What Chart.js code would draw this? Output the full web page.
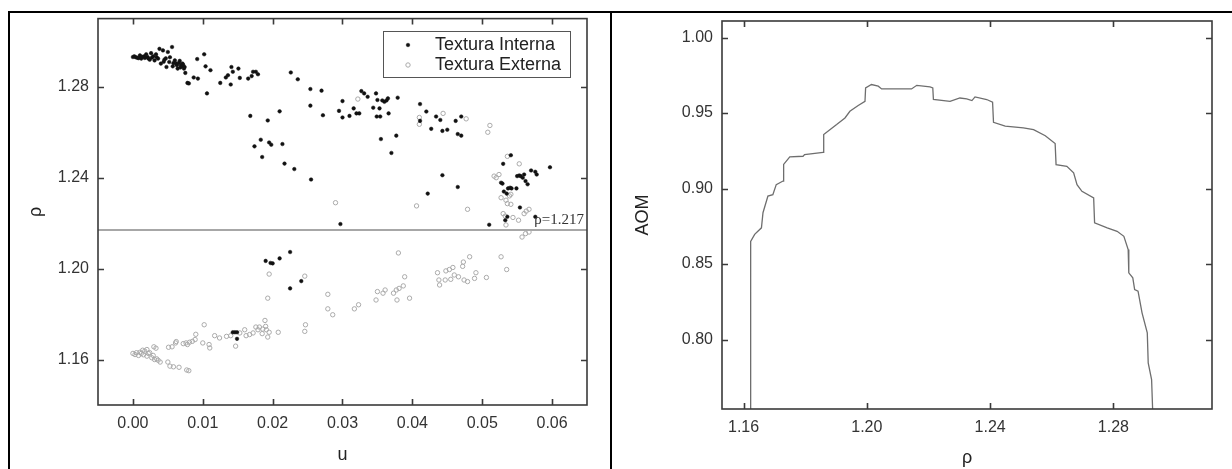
<!DOCTYPE html>
<html>
<head>
<meta charset="utf-8">
<script src="https://cdn.jsdelivr.net/npm/chart.js@4.4.0/dist/chart.umd.min.js"></script>
<style>
    body { margin: 0; background: #fff; }
    #wrap { position: relative; width: 1232px; height: 469px; overflow: hidden; background: #fff; }
    canvas { position: absolute; top: 0; }
    .rule { position: absolute; background: #000; }
</style>
</head>
<body>
<div id="wrap">
    <canvas id="left" width="600" height="469" style="left:10px"></canvas>
    <canvas id="right" width="619" height="469" style="left:613px"></canvas>
    <div class="rule" style="left:8px;top:11px;width:1224px;height:2px"></div>
    <div class="rule" style="left:8px;top:11px;width:2px;height:458px"></div>
    <div class="rule" style="left:610px;top:11px;width:2px;height:458px"></div>
</div>
<script>
// left panel: u vs rho, two textures
const interna = [
    [0.0000,1.2931],[0.0002,1.2934],[0.0004,1.2930],[0.0006,1.2928],[0.0008,1.2926],[0.0010,1.2938],
    [0.0012,1.2924],[0.0013,1.2932],[0.0016,1.2934],[0.0017,1.2927],[0.0019,1.2943],[0.0021,1.2931],
    [0.0022,1.2925],[0.0024,1.2919],[0.0026,1.2948],[0.0027,1.2928],[0.0029,1.2934],[0.0031,1.2916],
    [0.0033,1.2943],[0.0034,1.2930],[0.0036,1.2924],[0.0038,1.2967],[0.0040,1.2902],[0.0043,1.2960],
    [0.0044,1.2910],[0.0045,1.2919],[0.0047,1.2925],[0.0048,1.2887],[0.0050,1.2953],[0.0052,1.2909],
    [0.0053,1.2930],[0.0056,1.2975],[0.0057,1.2890],[0.0058,1.2904],[0.0060,1.2916],[0.0062,1.2902],
    [0.0063,1.2895],[0.0064,1.2880],[0.0066,1.2905],[0.0067,1.2914],[0.0068,1.2885],[0.0069,1.2895],
    [0.0070,1.2892],[0.0071,1.2902],[0.0072,1.2896],[0.0073,1.2880],[0.0074,1.2887],[0.0075,1.2861],
    [0.0078,1.2817],[0.0080,1.2815],[0.0087,1.2841],[0.0092,1.2922],[0.0093,1.2836],[0.0102,1.2943],
    [0.0104,1.2890],[0.0106,1.2771],[0.0111,1.2873],[0.0125,1.2817],[0.0133,1.2841],[0.0136,1.2851],
    [0.0140,1.2810],[0.0141,1.2887],[0.0143,1.2866],[0.0151,1.2880],[0.0153,1.2839],[0.0165,1.2836],
    [0.0170,1.2847],[0.0172,1.2866],[0.0176,1.2866],[0.0179,1.2855],[0.0168,1.2672],[0.0174,1.2538],
    [0.0183,1.2567],[0.0185,1.2491],[0.0193,1.2652],[0.0195,1.2555],[0.0198,1.2545],[0.0210,1.2692],
    [0.0214,1.2548],[0.0217,1.2462],[0.0226,1.2863],[0.0236,1.2833],[0.0254,1.2790],[0.0254,1.2717],
    [0.0255,1.2392],[0.0270,1.2783],[0.0272,1.2675],[0.0231,1.2438],
    [0.0300,1.2737],[0.0295,1.2694],[0.0300,1.2665],[0.0310,1.2672],[0.0316,1.2705],[0.0320,1.2683],
    [0.0324,1.2683],[0.0327,1.2781],[0.0331,1.2771],[0.0336,1.2756],[0.0344,1.2708],[0.0348,1.2771],
    [0.0350,1.2742],[0.0353,1.2705],[0.0357,1.2740],[0.0360,1.2734],[0.0363,1.2740],[0.0365,1.2749],
    [0.0366,1.2683],[0.0349,1.2669],[0.0354,1.2669],[0.0379,1.2752],[0.0355,1.2570],[0.0377,1.2585],
    [0.0370,1.2509],[0.0411,1.2724],[0.0420,1.2691],[0.0411,1.2650],[0.0434,1.2669],[0.0440,1.2654],
    [0.0427,1.2615],[0.0443,1.2606],[0.0450,1.2611],[0.0462,1.2650],[0.0470,1.2669],[0.0465,1.2592],
    [0.0470,1.2585],[0.0297,1.2196],[0.0422,1.2330],[0.0443,1.2411],[0.0465,1.2359],[0.0510,1.2193],
    [0.0541,1.2499],[0.0530,1.2461],[0.0550,1.2407],[0.0553,1.2410],[0.0555,1.2407],[0.0560,1.2414],
    [0.0558,1.2400],[0.0562,1.2385],[0.0565,1.2371],[0.0570,1.2432],[0.0576,1.2426],[0.0578,1.2414],
    [0.0597,1.2446],[0.0527,1.2378],[0.0529,1.2374],[0.0537,1.2353],[0.0540,1.2356],[0.0542,1.2353],
    [0.0531,1.2339],[0.0535,1.2330],[0.0549,1.2353],[0.0554,1.2269],[0.0576,1.2228],[0.0536,1.2228],
    [0.0533,1.2213],
    [0.0190,1.2034],[0.0197,1.2025],[0.0200,1.2023],[0.0210,1.2045],[0.0225,1.2073],[0.0225,1.1913],
    [0.0241,1.1945],[0.0143,1.1720],[0.0146,1.1720],[0.0149,1.1720],[0.0149,1.1691]
];

const externa = [
    [0.0000,1.1627],[0.0003,1.1622],[0.0005,1.1630],[0.0008,1.1618],[0.0010,1.1632],[0.0012,1.1627],
    [0.0015,1.1621],[0.0017,1.1637],[0.0020,1.1615],[0.0022,1.1627],[0.0024,1.1630],[0.0027,1.1608],
    [0.0029,1.1618],[0.0030,1.1656],[0.0031,1.1600],[0.0034,1.1603],[0.0036,1.1597],[0.0039,1.1589],
    [0.0033,1.1650],[0.0014,1.1641],[0.0020,1.1644],[0.0050,1.1589],[0.0053,1.1571],[0.0058,1.1568],
    [0.0066,1.1566],[0.0077,1.1554],[0.0080,1.1551],[0.0051,1.1654],[0.0056,1.1656],[0.0061,1.1673],
    [0.0062,1.1679],[0.0072,1.1670],[0.0076,1.1673],[0.0078,1.1666],[0.0081,1.1676],[0.0085,1.1680],
    [0.0089,1.1688],[0.0090,1.1711],[0.0100,1.1673],[0.0102,1.1753],[0.0109,1.1666],[0.0110,1.1651],
    [0.0117,1.1705],[0.0124,1.1695],[0.0134,1.1702],[0.0140,1.1705],[0.0147,1.1659],[0.0153,1.1717],
    [0.0160,1.1731],[0.0162,1.1705],[0.0167,1.1710],[0.0172,1.1717],[0.0176,1.1743],[0.0179,1.1731],
    [0.0181,1.1743],[0.0185,1.1714],[0.0186,1.1734],[0.0189,1.1772],[0.0190,1.1746],[0.0191,1.1731],
    [0.0193,1.1699],[0.0195,1.1720],[0.0208,1.1720],[0.0193,1.1870],[0.0195,1.1976],[0.0246,1.1967],
    [0.0247,1.1753],[0.0246,1.1724],
    [0.0279,1.1887],[0.0279,1.1823],[0.0286,1.1797],[0.0317,1.1823],[0.0323,1.1841],[0.0348,1.1862],
    [0.0350,1.1899],[0.0358,1.1892],[0.0361,1.1906],[0.0373,1.1892],[0.0377,1.1906],[0.0381,1.1913],
    [0.0387,1.1924],[0.0389,1.1964],[0.0378,1.1862],[0.0396,1.1870],[0.0380,1.2069],[0.0436,1.1982],
    [0.0438,1.1950],[0.0439,1.1928],[0.0447,1.1950],[0.0448,1.1990],[0.0453,1.1996],[0.0458,1.2005],
    [0.0455,1.1953],[0.0460,1.1972],[0.0466,1.1964],[0.0472,1.2010],[0.0473,1.2029],[0.0474,1.1950],
    [0.0479,1.1943],[0.0482,1.2052],[0.0489,1.1957],[0.0491,1.1982],[0.0506,1.1961],[0.0527,1.2052],
    [0.0535,1.1996],[0.0557,1.2139],[0.0562,1.2154],[0.0567,1.2161],
    [0.0536,1.2494],[0.0553,1.2461],[0.0517,1.2407],[0.0520,1.2400],[0.0524,1.2414],[0.0527,1.2312],
    [0.0534,1.2301],[0.0539,1.2320],[0.0536,1.2286],[0.0541,1.2283],[0.0530,1.2242],[0.0533,1.2231],
    [0.0544,1.2225],[0.0552,1.2213],[0.0560,1.2242],[0.0563,1.2253],[0.0567,1.2261],[0.0479,1.2261],
    [0.0541,1.2327],[0.0534,1.2192],
    [0.0322,1.2746],[0.0410,1.2665],[0.0410,1.2635],[0.0444,1.2683],[0.0477,1.2659],[0.0511,1.2630],
    [0.0508,1.2600],[0.0290,1.2290],[0.0406,1.2276]
];

const rhoLimit = 1.217;
const uTicks = [0.00, 0.01, 0.02, 0.03, 0.04, 0.05, 0.06];
const rhoTicksLeft = [1.16, 1.20, 1.24, 1.28];

// right panel: AOM vs rho
const curveRho = [1.1623,1.1623,1.1636,1.1658,1.1663,1.1679,1.1695,1.1706,1.1728,1.1730,1.1750,1.1793,
    1.1798,1.1858,1.1860,1.1880,1.1902,1.1929,1.1945,1.1972,1.1994,1.1996,1.2015,1.2037,1.2048,1.2145,
    1.2162,1.2205,1.2214,1.2216,1.2270,1.2302,1.2324,1.2341,1.2351,1.2389,1.2408,1.2411,1.2449,1.2508,
    1.2541,1.2579,1.2611,1.2614,1.2649,1.2671,1.2682,1.2698,1.2736,1.2739,1.2780,1.2812,1.2834,1.2848,
    1.2850,1.2863,1.2869,1.2880,1.2893,1.2910,1.2913,1.2924,1.2928];
const curveAom = [0.750,0.865,0.8697,0.874,0.884,0.895,0.896,0.9026,0.905,0.916,0.921,0.9214,
    0.9225,0.924,0.9358,0.939,0.9424,0.9468,0.9512,0.955,0.9578,0.9667,0.9689,0.9678,0.966,0.966,
    0.9684,0.9673,0.9667,0.959,0.9578,0.960,0.9594,0.9583,0.9607,0.959,0.9572,0.9439,0.9413,0.9402,
    0.939,0.935,0.9298,0.9159,0.9148,0.9104,0.9026,0.8982,0.8938,0.8773,0.874,0.8717,0.8684,0.8596,
    0.8442,0.8409,0.8331,0.832,0.8177,0.8044,0.7846,0.7735,0.750];
const rhoTicksRight = [1.16, 1.20, 1.24, 1.28];
const aomTicks = [0.80, 0.85, 0.90, 0.95, 1.00];

const FONT = "'Liberation Sans', Arial, sans-serif";
const AXIS = '#3a3a3a';

// frame with inward ticks on all four sides
const frameTicks = {
    id: 'frameTicks',
    afterDatasetsDraw(chart) {
        const { ctx, chartArea: a, scales: { x, y } } = chart;
        ctx.save();
        ctx.strokeStyle = AXIS;
        ctx.lineWidth = 1.6;
        ctx.strokeRect(a.left, a.top, a.right - a.left, a.bottom - a.top);
        ctx.beginPath();
        x.ticks.forEach(t => {
            const px = Math.round(x.getPixelForValue(t.value)) + 0.5;
            ctx.moveTo(px, a.bottom); ctx.lineTo(px, a.bottom - 6);
            ctx.moveTo(px, a.top); ctx.lineTo(px, a.top + 6);
        });
        y.ticks.forEach(t => {
            const py = Math.round(y.getPixelForValue(t.value)) + 0.5;
            ctx.moveTo(a.left, py); ctx.lineTo(a.left + 6, py);
            ctx.moveTo(a.right, py); ctx.lineTo(a.right - 6, py);
        });
        ctx.stroke();
        ctx.restore();
    }
};

// boxed legend + label for the limit line (left panel)
const legendBox = {
    id: 'legendBox',
    afterDraw(chart) {
        const { ctx, chartArea: a, scales: { y } } = chart;
        ctx.save();
        ctx.strokeStyle = '#555';
        ctx.lineWidth = 1;
        ctx.strokeRect(373.5, 31.5, 187, 46);
        ctx.font = '18px ' + FONT;
        ctx.fillStyle = '#222';
        ctx.textBaseline = 'middle';
        const items = chart.data.datasets.filter(d => d.inLegend);
        items.forEach((d, i) => {
            const yy = 45 + i * 20;
            ctx.beginPath();
            ctx.arc(398, yy, d.pointRadius, 0, Math.PI * 2);
            if (d.pointBackgroundColor !== 'transparent') {
                ctx.fillStyle = d.pointBackgroundColor; ctx.fill();
            }
            ctx.strokeStyle = d.pointBorderColor; ctx.lineWidth = d.pointBorderWidth || 0.5;
            ctx.stroke();
            ctx.fillStyle = '#222';
            ctx.fillText(d.label, 425, yy);
        });
        ctx.font = "15px 'Liberation Serif', 'Times New Roman', serif";
        ctx.fillStyle = '#333';
        ctx.textAlign = 'right';
        ctx.textBaseline = 'bottom';
        ctx.fillText('ρ=' + rhoLimit.toFixed(3), a.right - 3, y.getPixelForValue(rhoLimit) - 2);
        ctx.restore();
    }
};

function axisOpts(min, max, ticks, title, titlePad, size, isY) {
    return {
        type: 'linear',
        min: min, max: max,
        grid: { display: false, drawTicks: false },
        border: { display: false },
        afterBuildTicks: s => { s.ticks = ticks.map(v => ({ value: v })); },
        afterFit: s => { if (isY) s.width = size; else s.height = size; },
        ticks: {
            color: '#333',
            padding: 9,
            font: { family: FONT, size: 16 },
            callback: v => v.toFixed(2)
        },
        title: {
            display: true, text: title, color: '#222',
            font: { family: FONT, size: 18 },
            padding: titlePad
        }
    };
}

new Chart(document.getElementById('left'), {
    type: 'scatter',
    data: {
        datasets: [
            {
                label: 'Textura Interna',
                inLegend: true,
                data: interna.map(p => ({ x: p[0], y: p[1] })),
                pointRadius: 1.8,
                pointBackgroundColor: '#111',
                pointBorderColor: '#111',
                pointBorderWidth: 0.5,
                order: 0
            },
            {
                label: 'Textura Externa',
                inLegend: true,
                data: externa.map(p => ({ x: p[0], y: p[1] })),
                pointRadius: 2.2,
                pointBackgroundColor: 'transparent',
                pointBorderColor: '#aaa',
                pointBorderWidth: 1,
                order: 1
            },
            {
                label: 'limite',
                data: [{ x: -0.005, y: rhoLimit }, { x: 0.065, y: rhoLimit }],
                showLine: true,
                pointRadius: 0,
                borderColor: '#8a8a8a',
                borderWidth: 1.5,
                order: 2
            }
        ]
    },
    options: {
        responsive: false,
        animation: false,
        layout: { padding: { top: 17, right: 23, left: 0, bottom: 0 } },
        plugins: { legend: { display: false }, tooltip: { enabled: false } },
        scales: {
            x: axisOpts(-0.005, 0.065, uTicks, 'u', { top: 0, bottom: 3 }, 64, false),
            y: axisOpts(1.14, 1.31, rhoTicksLeft, 'ρ', { top: 15, bottom: 0 }, 88, true)
        }
    },
    plugins: [frameTicks, legendBox]
});

new Chart(document.getElementById('right'), {
    type: 'scatter',
    data: {
        datasets: [{
            label: 'AOM',
            data: curveRho.map((r, i) => ({ x: r, y: curveAom[i] })),
            showLine: true,
            pointRadius: 0,
            borderColor: '#6e6e6e',
            borderWidth: 1.3,
            tension: 0
        }]
    },
    options: {
        responsive: false,
        animation: false,
        layout: { padding: { top: 21, right: 20, left: 0, bottom: 0 } },
        plugins: { legend: { display: false }, tooltip: { enabled: false } },
        scales: {
            x: axisOpts(1.153, 1.312, rhoTicksRight, 'ρ', { top: 0, bottom: 0 }, 60, false),
            y: axisOpts(0.754, 1.011, aomTicks, 'AOM', { top: 19, bottom: 0 }, 109, true)
        }
    },
    plugins: [frameTicks]
});
</script>
</body>
</html>
